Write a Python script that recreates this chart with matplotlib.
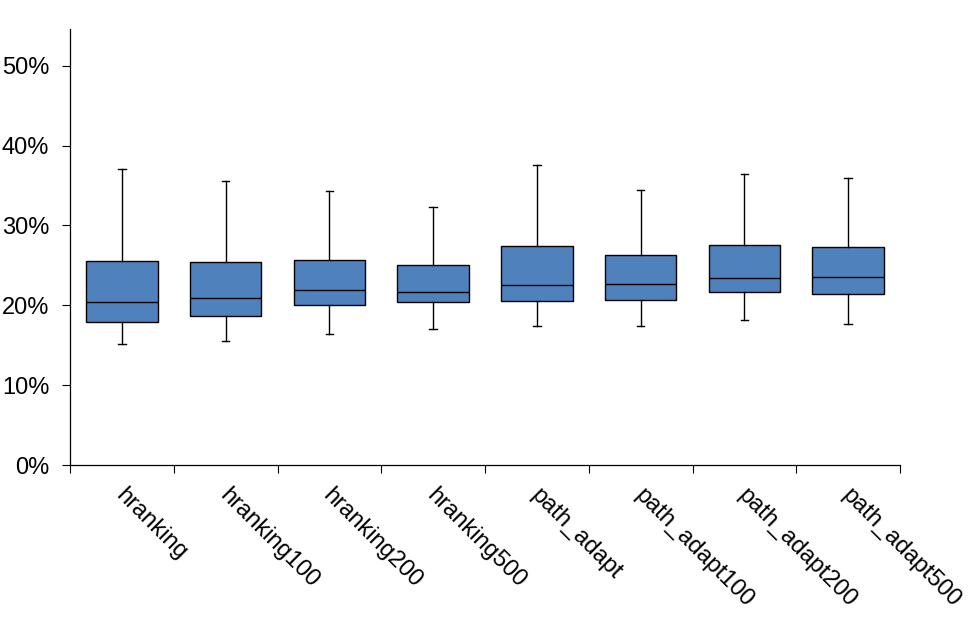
import matplotlib
matplotlib.use("Agg")
import matplotlib.pyplot as plt
from matplotlib.ticker import FuncFormatter
from matplotlib.transforms import ScaledTranslation

categories = ["hranking", "hranking100", "hranking200", "hranking500",
              "path_adapt", "path_adapt100", "path_adapt200", "path_adapt500"]
whisker_low = [0.151, 0.155, 0.164, 0.170, 0.174, 0.174, 0.181, 0.177]
q1 = [0.179, 0.186, 0.200, 0.204, 0.205, 0.207, 0.217, 0.214]
median = [0.204, 0.209, 0.219, 0.217, 0.225, 0.227, 0.234, 0.236]
q3 = [0.256, 0.254, 0.257, 0.251, 0.274, 0.263, 0.276, 0.273]
whisker_high = [0.371, 0.356, 0.343, 0.323, 0.376, 0.345, 0.364, 0.359]
yticks = [0.0, 0.1, 0.2, 0.3, 0.4, 0.5]

plt.rcParams['font.family'] = ['Liberation Sans', 'DejaVu Sans']

fig = plt.figure(figsize=(9.77, 6.32), dpi=100)
ax = fig.add_axes([70/977, 1-465/632, 830/977, 436/632])

stats = []
for i, c in enumerate(categories):
    stats.append(dict(label=c, whislo=whisker_low[i], q1=q1[i], med=median[i],
                      q3=q3[i], whishi=whisker_high[i], fliers=[]))

positions = [i + 0.5 for i in range(len(categories))]
ax.bxp(stats, positions=positions, widths=0.69, patch_artist=True,
       showfliers=False, capwidths=0.07,
       boxprops=dict(facecolor='#4F81BD', edgecolor='black', linewidth=1.0),
       medianprops=dict(color='black', linewidth=1.0),
       whiskerprops=dict(color='black', linewidth=1.0),
       capprops=dict(color='black', linewidth=1.0))

ax.set_xlim(0, len(categories))
ax.set_ylim(0, 0.546)
ax.set_yticks(yticks)
ax.yaxis.set_major_formatter(FuncFormatter(lambda v, p: f"{v*100:.0f}%"))

ax.set_xticks(positions)
ax.set_xticklabels(categories, rotation=-45, ha='left', va='top',
                   rotation_mode='anchor')
ax.set_xticks(range(len(categories) + 1), minor=True)
ax.tick_params(axis='x', which='major', length=0, pad=14, labelsize=17)
ax.tick_params(axis='x', which='minor', length=6, width=0.8, direction='out')
ax.tick_params(axis='y', length=6, width=0.8, direction='out', pad=9, labelsize=17)
for lbl in ax.get_xticklabels():
    lbl.set_transform(lbl.get_transform() + ScaledTranslation(5/100, 0, fig.dpi_scale_trans))

for s in ['top', 'right']:
    ax.spines[s].set_visible(False)
for s in ['left', 'bottom']:
    ax.spines[s].set_linewidth(0.9)

fig.savefig("out.png", dpi=100)
